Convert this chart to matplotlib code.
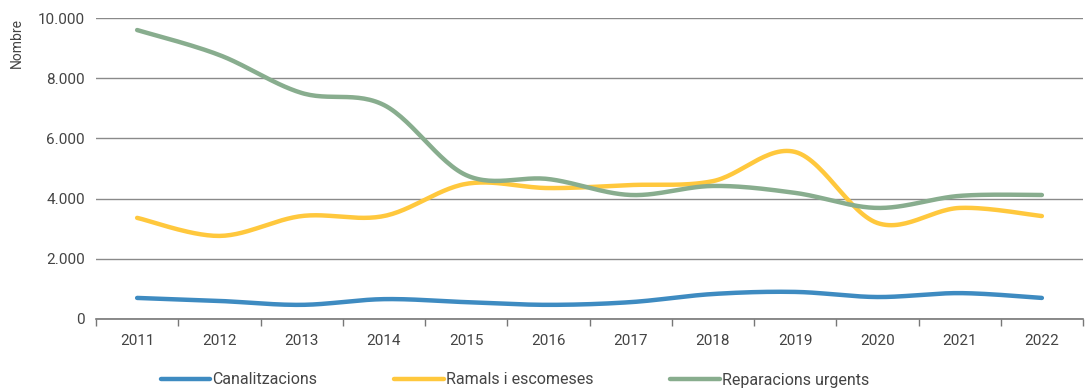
import numpy as np
import matplotlib
matplotlib.use("Agg")
import matplotlib.pyplot as plt
from matplotlib.ticker import FuncFormatter

years = ["2011", "2012", "2013", "2014", "2015", "2016",
         "2017", "2018", "2019", "2020", "2021", "2022"]
canalitzacions = [700, 600, 470, 660, 560, 470, 560, 830, 900, 730, 860, 700]
ramals = [3360, 2760, 3420, 3420, 4490, 4350, 4450, 4580, 5550, 3190, 3690, 3420]
reparacions = [9600, 8770, 7510, 7110, 4780, 4650, 4120, 4420, 4190, 3690, 4090, 4120]

series = [
    ("Canalitzacions", canalitzacions, "#3e8bc1"),
    ("Ramals i escomeses", ramals, "#ffc83d"),
    ("Reparacions urgents", reparacions, "#88ad8e"),
]

plt.rcParams["font.family"] = ["Roboto", "DejaVu Sans"]


def smooth(xs, ys, n=30):
    """Cubic Bezier smoothing through every point (Catmull-Rom style)."""
    xs = np.asarray(xs, float)
    ys = np.asarray(ys, float)
    px = np.concatenate([[xs[0]], xs, [xs[-1]]])
    py = np.concatenate([[ys[0]], ys, [ys[-1]]])
    out_x, out_y = [], []
    t = np.linspace(0, 1, n)
    for i in range(1, len(px) - 2):
        p0 = np.array([px[i], py[i]])
        p3 = np.array([px[i + 1], py[i + 1]])
        c1 = p0 + (np.array([px[i + 1], py[i + 1]]) - np.array([px[i - 1], py[i - 1]])) / 6
        c2 = p3 - (np.array([px[i + 2], py[i + 2]]) - np.array([px[i], py[i]])) / 6
        b = ((1 - t) ** 3)[:, None] * p0 + (3 * (1 - t) ** 2 * t)[:, None] * c1 \
            + (3 * (1 - t) * t ** 2)[:, None] * c2 + (t ** 3)[:, None] * p3
        out_x.extend(b[:, 0])
        out_y.extend(b[:, 1])
    return out_x, out_y


fig = plt.figure(figsize=(10.89, 3.9), dpi=100)
ax = fig.add_axes([96 / 1089, 1 - 319 / 390, (1083 - 96) / 1089, (319 - 18) / 390])

x = np.arange(len(years))
for label, vals, color in series:
    sx, sy = smooth(x, vals)
    ax.plot(sx, sy, color=color, lw=3.2, solid_capstyle="round", label=label, zorder=3)

ax.set_xlim(-0.5, len(years) - 0.5)
ax.set_ylim(0, 10000)
ax.set_yticks(np.arange(0, 10001, 2000))
ax.yaxis.set_major_formatter(FuncFormatter(lambda v, p: f"{int(v):,}".replace(",", ".")))
ax.set_xticks(x)
ax.set_xticklabels(years)
ax.set_xticks(np.arange(-0.5, len(years), 1), minor=True)

ax.grid(axis="y", color="#8a8a8a", lw=1, zorder=0)
for s in ["top", "right", "left"]:
    ax.spines[s].set_visible(False)
ax.spines["bottom"].set_color("#777777")
ax.spines["bottom"].set_linewidth(1.2)

ax.tick_params(axis="y", length=0, pad=8, labelsize=11, labelcolor="#444444")
ax.tick_params(axis="x", which="major", length=0, pad=11, labelsize=11, labelcolor="#444444")
ax.tick_params(axis="x", which="minor", length=5, width=1, color="#777777")

ax.set_ylabel("Nombre", loc="top", fontsize=10, color="#444444", labelpad=10)

fig.legend(loc="center", bbox_to_anchor=(0.473, 10 / 390), ncol=3,
           frameon=False, fontsize=11.5, handlelength=3.1, handletextpad=0.15,
           columnspacing=4.8, labelcolor="#444444")

fig.savefig("out.png", dpi=100)
